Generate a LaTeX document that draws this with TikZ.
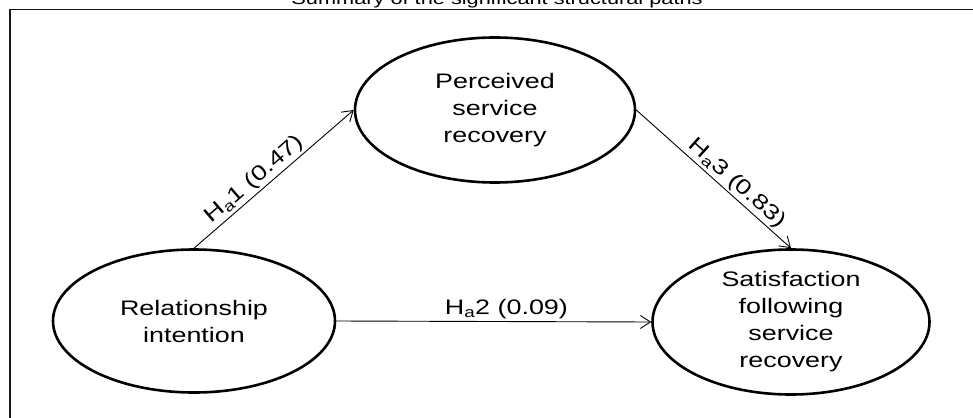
\documentclass[tikz,border=0pt]{standalone}
\usepackage{fontspec}
\setmainfont[FakeStretch=1.28]{Liberation Sans}
\usetikzlibrary{shapes.geometric,arrows.meta}
\begin{document}
\begin{tikzpicture}[x=1pt,y=-1pt,
  construct/.style={ellipse,draw,line width=2.6pt,inner sep=0pt,align=center,
    font=\fontsize{21}{27}\selectfont},
  path/.style={line width=0.9pt,-{Straight Barb[length=10pt,width=13pt,line width=0.9pt]}},
  plabel/.style={sloped,above,inner sep=2pt,font=\fontsize{21}{24}\selectfont},
  frame/.style={line width=1.6pt,black!90}]
\useasboundingbox (0,0) rectangle (973,417);
\clip (0,0) rectangle (973,417);
\node[font=\fontsize{17}{17}\selectfont,anchor=base,inner sep=0pt] (title) at (497,5) {Summary of the significant structural paths};
\draw[frame] (10,430) -- (10,9.5) -- (990,9.5);
\node[construct,minimum width=280pt,minimum height=145pt] (per) at (495,110) {Perceived\\service\\recovery};
\node[construct,minimum width=282pt,minimum height=143pt] (rel) at (194,321) {Relationship\\intention};
\node[construct,minimum width=277pt,minimum height=145pt] (sat) at (791,322) {Satisfaction\\following\\service\\recovery};
\draw[path] (rel.north) -- node[plabel,pos=0.43] (l1) {H\textsubscript{a}1 (0.47)} (per.west);
\draw[path] (per.east) -- node[plabel,pos=0.6] (l3) {H\textsubscript{a}3 (0.83)} (sat.north);
\draw[path] (rel.east) -- node[plabel,pos=0.54] (l2) {H\textsubscript{a}2 (0.09)} (sat.west);
\end{tikzpicture}
\end{document}
